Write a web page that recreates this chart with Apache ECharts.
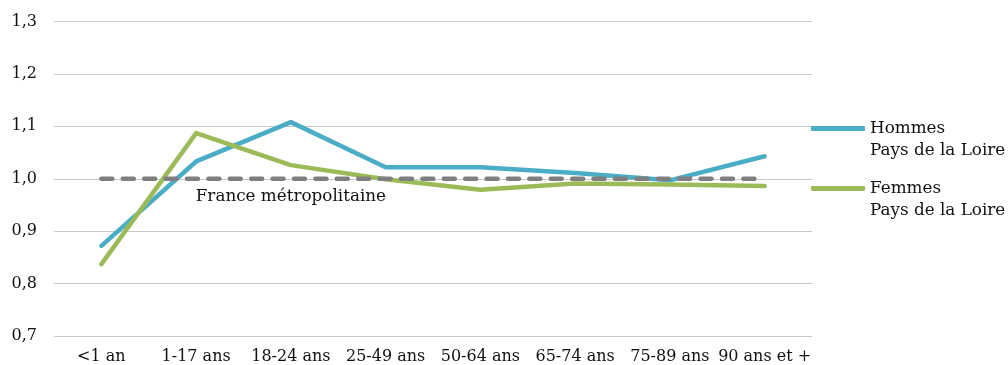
<!DOCTYPE html>
<html>
<head>
<meta charset="utf-8">
<script src="https://cdn.jsdelivr.net/npm/echarts@6/dist/echarts.min.js"></script>
<style>html,body{margin:0;padding:0;background:#fff}#c{width:1008px;height:365px}</style>
</head>
<body>
<div id="c"></div>
<script>
const categories = ['<1 an', '1-17 ans', '18-24 ans', '25-49 ans', '50-64 ans', '65-74 ans', '75-89 ans', '90 ans et +'];
const hommes = [0.872, 1.033, 1.108, 1.022, 1.022, 1.011, 0.997, 1.043];
const femmes = [0.837, 1.087, 1.026, 0.999, 0.979, 0.991, 0.989, 0.986];
const france = [1, 1, 1, 1, 1, 1, 1, 1];
const seriesNames = ['Hommes\nPays de la Loire', 'Femmes\nPays de la Loire', 'France métropolitaine'];
const yTicks = { min: 0.7, max: 1.3, interval: 0.1 };

const FONT = 'DejaVu Serif';
const FS = 16;
const FS2 = 16.8;
const TXT = '#111';
const chart = echarts.init(document.getElementById('c'), null, { renderer: 'canvas' });

const legendText = { fontFamily: FONT, fontSize: FS2, color: TXT, lineHeight: 22 };
const legendBase = { orient: 'vertical', left: 811, padding: 0, itemWidth: 54, itemHeight: 5, itemGap: 0,
  icon: 'roundRect', textStyle: legendText, selectedMode: false, formatter: n => '\n' + n };

chart.setOption({
  animation: false,
  grid: { left: 54, right: 196, top: 21.5, bottom: 29, containLabel: false },
  legend: [
    Object.assign({ data: [seriesNames[0]], top: 95.5 }, legendBase),
    Object.assign({ data: [seriesNames[1]], top: 155.5 }, legendBase)
  ],
  xAxis: {
    type: 'category', data: categories, boundaryGap: true,
    axisLine: { show: false }, axisTick: { show: false },
    axisLabel: { interval: 0, fontFamily: FONT, fontSize: FS, color: TXT, margin: 13 }
  },
  yAxis: {
    type: 'value', min: yTicks.min, max: yTicks.max, interval: yTicks.interval,
    axisLine: { show: false }, axisTick: { show: false },
    axisLabel: { fontFamily: FONT, fontSize: FS, color: TXT, margin: 17,
      formatter: v => v.toFixed(1).replace('.', ',') },
    splitLine: { lineStyle: { color: '#c8c8c8', width: 1 } }
  },
  series: [
    { name: seriesNames[0], type: 'line', data: hommes, symbol: 'none',
      lineStyle: { color: '#4bacc6', width: 4.5, cap: 'round', join: 'round' }, itemStyle: { color: '#4bacc6' } },
    { name: seriesNames[1], type: 'line', data: femmes, symbol: 'none',
      lineStyle: { color: '#9bbb59', width: 4.5, cap: 'round', join: 'round' }, itemStyle: { color: '#9bbb59' } },
    { name: seriesNames[2], type: 'line', symbol: 'none',
      data: france.map((v, i) => i === 2 ? { value: v, symbol: 'circle', symbolSize: 0.01,
        label: { show: true, position: 'bottom', distance: 9, formatter: seriesNames[2], fontFamily: FONT, fontSize: FS2, color: TXT } } : v),
      lineStyle: { color: '#7f7f7f', width: 4.5, type: [11, 10.4], cap: 'round' }, itemStyle: { color: '#7f7f7f' } }
  ]
});
</script>
</body>
</html>
